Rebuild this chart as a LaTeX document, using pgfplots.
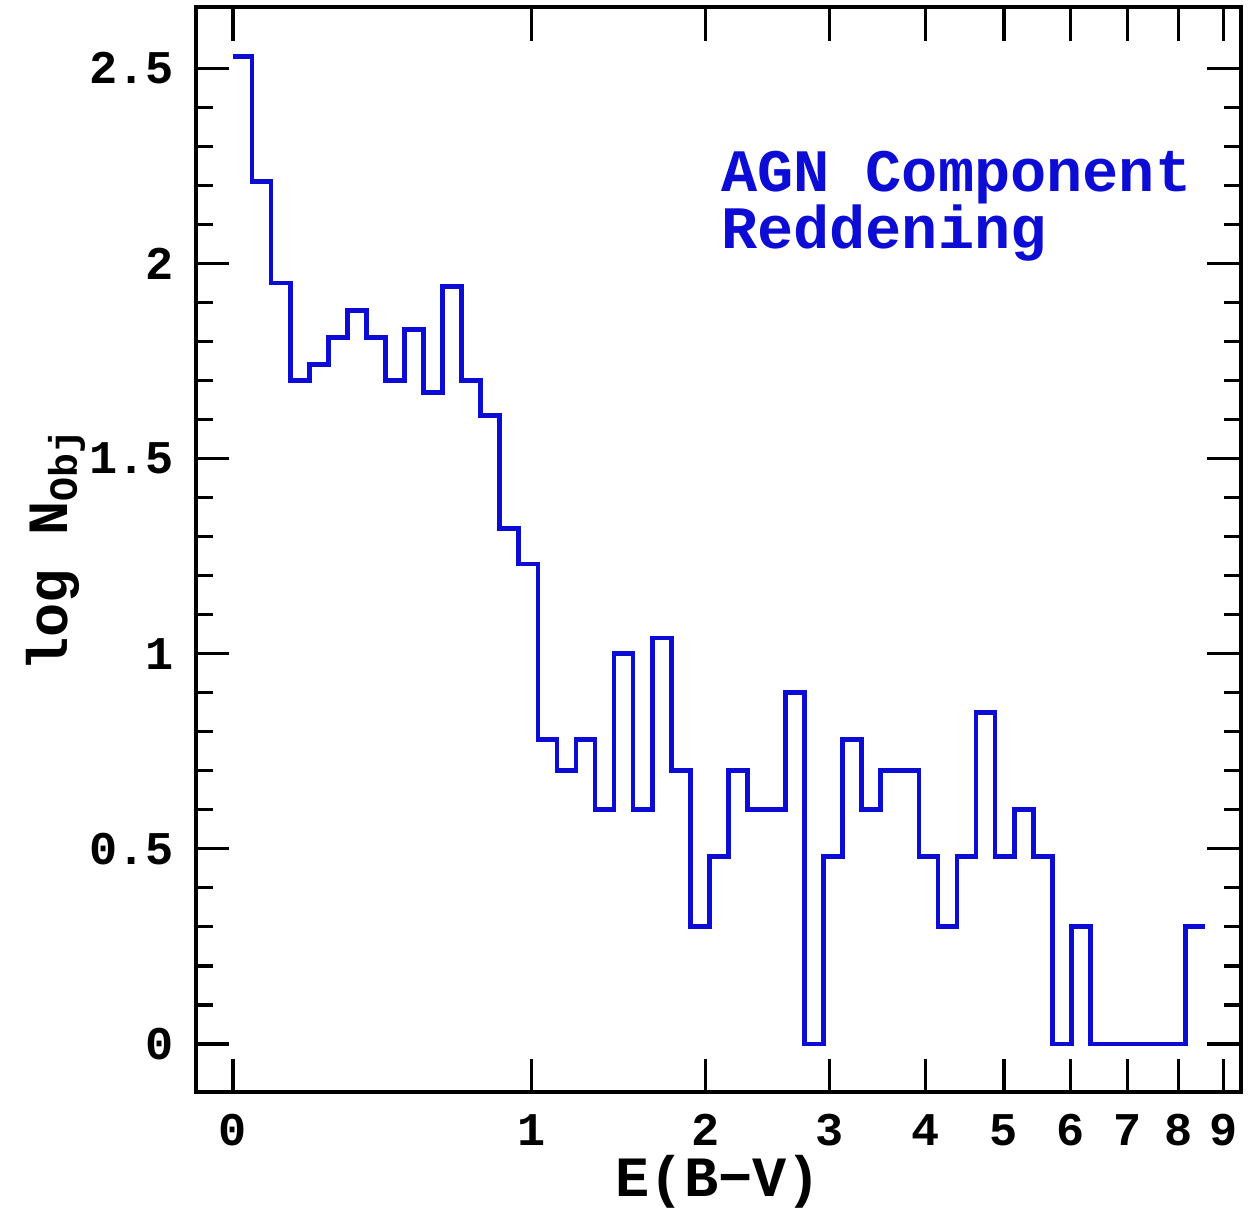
\documentclass[border=0pt]{standalone}
\usepackage{fontspec}
\setmainfont{Liberation Mono}
\usepackage{pgfplots}
\pgfplotsset{compat=1.18}
\definecolor{agnblue}{RGB}{12,12,212}

% left bin edge in u = log10(1+E(B-V)), log N per bin
\pgfplotstableread{
u y
0       2.53
0.01923 2.21
0.03846 1.95
0.05769 1.70
0.07692 1.74
0.09615 1.81
0.11538 1.88
0.13462 1.81
0.15385 1.70
0.17308 1.83
0.19231 1.67
0.21154 1.94
0.23077 1.70
0.25    1.61
0.26923 1.32
0.28846 1.23
0.30769 0.78
0.32692 0.70
0.34615 0.78
0.36538 0.60
0.38462 1.00
0.40385 0.60
0.42308 1.04
0.44231 0.70
0.46154 0.30
0.48077 0.48
0.5     0.70
0.51923 0.60
0.53846 0.60
0.55769 0.90
0.57692 0
0.59615 0.48
0.61538 0.78
0.63462 0.60
0.65385 0.70
0.67308 0.70
0.69231 0.48
0.71154 0.30
0.73077 0.48
0.75    0.85
0.76923 0.48
0.78846 0.60
0.80769 0.48
0.82692 0
0.84615 0.30
0.86538 0
0.88462 0
0.90385 0
0.92308 0
0.94231 0
0.96154 0.30
0.98077 0.30
}\histdata

\begin{document}
\begin{tikzpicture}
\begin{axis}[
    scale only axis,
    width=312pt, height=324pt,
    xmin=-0.0375, xmax=1.017,
    ymin=-0.124, ymax=2.656,
    axis line style={line width=1.2pt},
    tick style={line width=1pt, black},
    tick align=inside,
    major tick length=10pt,
    minor tick length=5pt,
    xtick={0,0.30103,0.47712,0.60206,0.69897,0.77815,0.84510,0.90309,0.95424,1},
    xticklabels={0,1,2,3,4,5,6,7,8,9},
    ytick={0,0.5,1,1.5,2,2.5},
    yticklabels={0,0.5,1,1.5,2,2.5},
    minor y tick num=4,
    tick label style={font=\bfseries\fontsize{14}{14}\selectfont},
    /pgf/number format/assume math mode=true,
    xticklabel style={yshift=-3pt},
    yticklabel style={xshift=-3pt},
    xlabel={E(B−V)},
    ylabel={log N\textsubscript{Obj}},
    label style={font=\bfseries\fontsize{17}{17}\selectfont},
    xlabel style={yshift=4pt},
    ylabel style={yshift=-5.5pt},
]
\addplot[const plot, agnblue, line width=1.4pt] table[x=u, y=y] {\histdata};
\node[anchor=north west, align=left, text=agnblue, inner sep=0pt,
      font=\bfseries\fontsize{18}{17}\selectfont]
    at (axis cs:0.492,2.29) {AGN Component\\Reddening};
\end{axis}
% page margins as in the reference
\path (current axis.south west) ++(-58.5pt,0);
\path (current axis.north west) ++(0,2.2pt);
\end{tikzpicture}
\end{document}
